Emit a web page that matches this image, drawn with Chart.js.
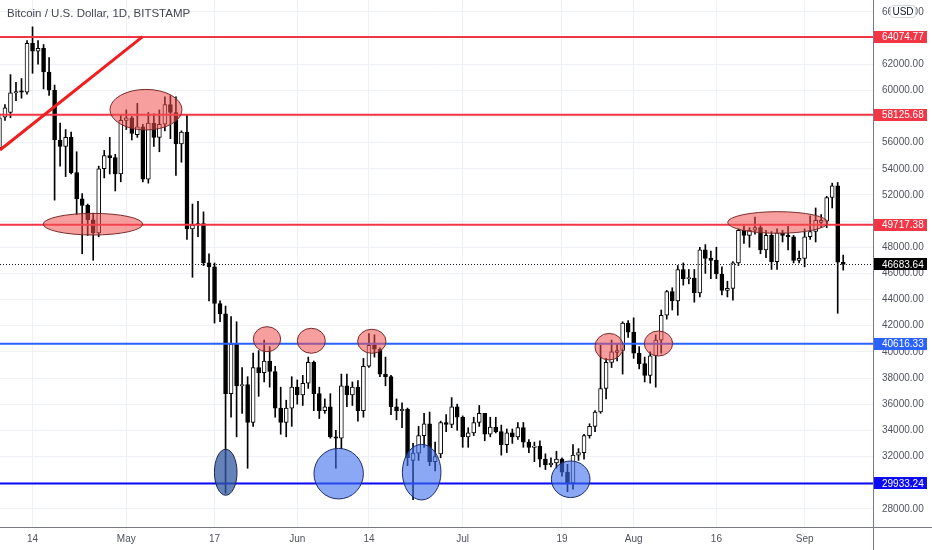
<!DOCTYPE html>
<html>
<head>
<meta charset="utf-8">
<script src="https://cdn.jsdelivr.net/npm/chart.js@4.4.0/dist/chart.umd.min.js"></script>
<style>
  html, body { margin: 0; padding: 0; background: #ffffff; }
  canvas { display: block; }
</style>
</head>
<body>
<canvas id="btcChart" width="932" height="550"></canvas>
<script>
// daily candles, first one is 2021-04-08 (index 0), last one 2021-09-08
const opens = [
  55600, 57950, 58300, 59800, 59950, 59850, 63600, 63000, 63200, 61400,
  60000, 56200, 55700, 56400, 53700, 51700, 51200, 50100, 49100, 54000,
  55000, 54850, 53600, 57700, 57900, 56600, 57200, 53200, 57500, 56400,
  57400, 58900, 58300, 55900, 56800, 49400, 49700, 49800, 46800, 46500,
  43700, 42900, 36800, 40600, 37400, 37500, 34600, 38800, 38400, 39300,
  38500, 35700, 34600, 35700, 37300, 36700, 37600, 39200, 36800, 35500,
  35800, 33500, 33400, 37400, 36700, 37300, 35500, 38900, 40500, 40200,
  38300, 38100, 35800, 35500, 35600, 31700, 32250, 33600, 34500, 31600,
  32200, 34600, 34450, 35800, 35000, 33500, 33800, 34600, 35300, 33700,
  34250, 33900, 32900, 33800, 33500, 34200, 33100, 32700, 32800, 31800,
  31350, 31500, 31800, 30800, 29950, 32100, 32300, 33600, 34300, 35400,
  37200, 39200, 39950, 40100, 42200, 41500, 39900, 39100, 38200, 39700,
  40900, 42800, 44600, 43900, 46300, 45600, 45650, 44500, 47800, 47150,
  47000, 45950, 44700, 44850, 46800, 49300, 48900, 49300, 49500, 47800,
  48900, 46900, 49100, 48900, 48800, 47000, 47150, 48800, 49200, 49900,
  50000, 51800, 52700, 46850
];
const highs = [
  58200, 58900, 61200, 60600, 60900, 63800, 64850, 63800, 63500, 62500,
  60400, 57500, 57000, 56800, 55300, 52100, 51300, 50600, 54200, 55400,
  56400, 55100, 58100, 58500, 58000, 59000, 57400, 58300, 58200, 58500,
  59500, 59600, 59500, 56900, 58100, 51300, 51500, 50700, 47500, 46800,
  43900, 43500, 42700, 42300, 38800, 38100, 39900, 40100, 40900, 40400,
  38900, 37300, 36300, 38100, 37850, 38200, 39600, 39300, 37300, 36400,
  36800, 34000, 38300, 38300, 37700, 37800, 39500, 41400, 41300, 40300,
  39600, 38200, 36400, 36100, 35700, 33000, 34300, 35300, 35400, 33100,
  34700, 35200, 36500, 36000, 35100, 34200, 35000, 35900, 35300, 35000,
  35000, 34400, 34100, 34100, 34600, 34600, 33300, 33100, 33200, 32200,
  31900, 32400, 31900, 31400, 32900, 32600, 33700, 34500, 35500, 40500,
  39500, 40900, 40600, 42300, 42400, 42600, 40400, 39600, 40000, 41300,
  43200, 44700, 44900, 46600, 46800, 46300, 46300, 48000, 48200, 47700,
  48000, 46500, 45400, 46900, 49400, 49700, 49500, 50300, 49700, 49300,
  49200, 49400, 49300, 49600, 48900, 47700, 49400, 50400, 51000, 50500,
  51900, 52900, 52950, 47400
];
const lows = [
  55500, 57700, 57900, 59200, 59400, 59700, 61300, 62000, 60100, 59600,
  51600, 54200, 53400, 53600, 50500, 47500, 48900, 47000, 48800, 53300,
  53600, 52300, 53000, 57000, 56200, 56400, 53000, 52900, 55700, 55300,
  56900, 56300, 53500, 54500, 48600, 45700, 48800, 46600, 43900, 42200,
  42300, 29200, 35000, 33500, 35300, 31100, 34300, 36600, 37700, 37300,
  35000, 33700, 33500, 34300, 36000, 35900, 37200, 35500, 34900, 35300,
  33400, 31100, 32600, 35800, 35900, 34700, 35000, 38800, 39600, 38100,
  37400, 35200, 34800, 34200, 31300, 28700, 31700, 32700, 31300, 30900,
  31900, 33900, 34200, 34000, 32700, 32700, 33600, 34300, 33200, 33500,
  33800, 32100, 32300, 33000, 33300, 32700, 32300, 31600, 31200, 31000,
  31200, 31100, 30500, 29300, 29500, 31700, 31800, 33400, 33900, 35300,
  36400, 38800, 39300, 38300, 41100, 39500, 38700, 37700, 37600, 37300,
  39900, 42500, 43200, 42800, 45100, 45200, 43800, 44200, 46000, 45600,
  45600, 44350, 44200, 43950, 46600, 48300, 48000, 49000, 47500, 47200,
  46300, 46300, 48400, 47800, 46800, 46800, 46500, 48600, 48400, 49500,
  49500, 51000, 42950, 46250
];
const closes = [
  57900, 58650, 59800, 59900, 59850, 63600, 63000, 63200, 61400, 60000,
  56200, 55700, 56400, 53700, 51700, 51200, 50100, 49100, 54000, 55000,
  54850, 53600, 57700, 57900, 56700, 57200, 53200, 57500, 56400, 57400,
  58900, 58300, 55900, 56800, 49400, 49700, 49800, 46800, 46500, 43700,
  42900, 36800, 40600, 37400, 37500, 34600, 38800, 38400, 39300, 38500,
  35700, 34600, 35700, 37300, 36700, 37600, 39200, 36800, 35500, 35800,
  33500, 33400, 37400, 36700, 37300, 35500, 38900, 40500, 40200, 38300,
  38100, 35800, 35500, 35600, 31900, 32250, 33600, 34500, 31600, 32000,
  34600, 34450, 35800, 35000, 33500, 33800, 34600, 35300, 33700, 34250,
  33900, 32900, 33800, 33500, 34200, 33100, 32700, 32800, 31800, 31350,
  31500, 31800, 30800, 29950, 32100, 32300, 33600, 34300, 35400, 37200,
  39200, 40000, 40100, 42200, 41500, 39900, 39100, 38200, 39700, 40900,
  42800, 44600, 43900, 46300, 45600, 45650, 44500, 47800, 47150, 47000,
  45950, 44700, 44850, 46800, 49300, 48900, 49300, 49500, 47800, 48900,
  46900, 49100, 48900, 48800, 47000, 47150, 48800, 49200, 50050, 50050,
  51800, 52700, 46850, 46683.64
];
const lastPrice = 46683.64;

// time axis: day index of each label
const tickDays = [6, 23, 39, 54, 67, 84, 102, 115, 130, 146];
const tickLabels = ['14', 'May', '17', 'Jun', '14', 'Jul', '19', 'Aug', '16', 'Sep'];

// price axis ticks
const priceTicks = [28000, 30000, 32000, 34000, 36000, 38000, 40000, 42000, 44000, 46000,
  48000, 50000, 52000, 54000, 56000, 58000, 60000, 62000, 64000, 66000];

// horizontal levels drawn on the chart
const levelValues = [64074.77, 58125.68, 49717.38, 40616.33, 29933.24];
const levelColors = ['#f23645', '#f23645', '#f23645', '#2962ff', '#0b0bf5'];

// trend line: [day, price] to [day, price]
const trendLine = [[0.1, 55435], [25.97, 64098]];

// marked zones: [day, price, half width in days, half height in price, kind]
const zones = [
  [26.57, 58516, 6.53, 1552, 'red'],
  [16.96, 49762, 9.01, 826, 'red'],
  [48.51, 40969, 2.48, 956, 'red'],
  [56.55, 40846, 2.54, 956, 'red'],
  [67.52, 40808, 2.57, 918, 'red'],
  [41.03, 30792, 2.05, 1759, 'navy'],
  [61.51, 30685, 4.48, 1934, 'blue'],
  [76.56, 30800, 3.5, 2126, 'blue'],
  [103.58, 30257, 3.5, 1399, 'blue'],
  [110.56, 40395, 2.57, 1017, 'red'],
  [119.5, 40640, 2.57, 956, 'red'],
  [141.12, 49892, 9.07, 826, 'red']
];

const zoneFill = { red: 'rgba(240, 80, 80, 0.55)', blue: 'rgba(60, 110, 235, 0.6)', navy: 'rgba(50, 90, 160, 0.75)' };
const zoneEdge = { red: '#7a2a2a', blue: '#1c2b6b', navy: '#1a2550' };

const textColor = '#50535e';
const gridColor = '#eef1f6';
const axisFont = { family: 'Liberation Sans', size: 10 };

// a tick label that sits under a level tag is not shown
const hiddenByTag = (v) => levelValues.some((l) => Math.abs(l - v) < 450);

const overlay = {
  id: 'overlay',
  afterDatasetsDraw(chart) {
    const { ctx, chartArea: a, scales: { x, y } } = chart;
    ctx.save();
    ctx.beginPath();
    ctx.rect(a.left, a.top, a.right - a.left, a.bottom - a.top);
    ctx.clip();

    // last price dotted line
    const py = Math.round(y.getPixelForValue(lastPrice)) + 0.5;
    ctx.setLineDash([1, 2]);
    ctx.strokeStyle = '#131722';
    ctx.lineWidth = 1;
    ctx.beginPath();
    ctx.moveTo(a.left, py);
    ctx.lineTo(a.right, py);
    ctx.stroke();
    ctx.setLineDash([]);

    levelValues.forEach((v, i) => {
      const ly = y.getPixelForValue(v);
      ctx.strokeStyle = levelColors[i];
      ctx.lineWidth = 2;
      ctx.beginPath();
      ctx.moveTo(a.left, ly);
      ctx.lineTo(a.right, ly);
      ctx.stroke();
    });

    ctx.strokeStyle = '#f01e1e';
    ctx.lineWidth = 3;
    ctx.beginPath();
    ctx.moveTo(x.getPixelForValue(trendLine[0][0]), y.getPixelForValue(trendLine[0][1]));
    ctx.lineTo(x.getPixelForValue(trendLine[1][0]), y.getPixelForValue(trendLine[1][1]));
    ctx.stroke();

    zones.forEach(([d, p, hd, hp, kind]) => {
      const cx = x.getPixelForValue(d);
      const cy = y.getPixelForValue(p);
      const rx = x.getPixelForValue(d + hd) - cx;
      const ry = cy - y.getPixelForValue(p + hp);
      ctx.beginPath();
      ctx.ellipse(cx, cy, rx, ry, 0, 0, Math.PI * 2);
      ctx.fillStyle = zoneFill[kind];
      ctx.fill();
      ctx.strokeStyle = zoneEdge[kind];
      ctx.lineWidth = 1;
      ctx.stroke();
    });
    ctx.restore();
  },
  afterDraw(chart) {
    const { ctx, chartArea: a, scales: { y }, width, height } = chart;
    ctx.save();
    // axis borders
    ctx.strokeStyle = '#787b86';
    ctx.lineWidth = 1;
    ctx.beginPath();
    ctx.moveTo(0, Math.round(a.bottom) + 0.5);
    ctx.lineTo(width, Math.round(a.bottom) + 0.5);
    ctx.moveTo(Math.round(a.right) + 0.5, 0);
    ctx.lineTo(Math.round(a.right) + 0.5, height);
    ctx.stroke();

    // price labels on the scale
    ctx.font = '10px "Liberation Sans"';
    ctx.textBaseline = 'middle';
    const tag = (v, color) => {
      const ty = y.getPixelForValue(v);
      ctx.fillStyle = color;
      ctx.fillRect(a.right + 1, Math.round(ty) - 6, 53, 12);
      ctx.fillStyle = '#ffffff';
      ctx.fillText(v.toFixed(2), a.right + 9, ty + 0.5);
    };
    levelValues.forEach((v, i) => tag(v, levelColors[i]));
    tag(lastPrice, '#000000');

    // currency box
    ctx.fillStyle = '#ffffff';
    ctx.strokeStyle = '#d1d4dc';
    ctx.beginPath();
    ctx.roundRect(890.5, 5.5, 25, 12, 3);
    ctx.fill();
    ctx.stroke();
    ctx.fillStyle = '#131722';
    ctx.textAlign = 'center';
    ctx.fillText('USD', 903, 12);

    // title
    ctx.textAlign = 'left';
    ctx.textBaseline = 'alphabetic';
    ctx.font = '11.5px "Liberation Sans"';
    ctx.fillStyle = '#434651';
    ctx.fillText('Bitcoin / U.S. Dollar, 1D, BITSTAMP', 7, 17);
    ctx.restore();
  }
};

const bodies = closes.map((c, i) => ({ x: i, y: [Math.min(opens[i], c), Math.max(opens[i], c)] }));
const wicks = highs.map((h, i) => ({ x: i, y: [lows[i], h] }));

new Chart(document.getElementById('btcChart'), {
  type: 'bar',
  data: {
    datasets: [
      {
        label: 'body',
        data: bodies,
        backgroundColor: (c) => closes[c.dataIndex] >= opens[c.dataIndex] ? '#ffffff' : '#000000',
        borderColor: '#000000',
        borderWidth: 1,
        borderSkipped: false,
        barThickness: 4,
        minBarLength: 1,
        grouped: false,
        order: 1
      },
      {
        label: 'wick',
        data: wicks,
        backgroundColor: '#000000',
        barThickness: 1,
        grouped: false,
        order: 2
      }
    ]
  },
  options: {
    responsive: false,
    animation: false,
    layout: { padding: 0 },
    plugins: { legend: { display: false }, tooltip: { enabled: false } },
    scales: {
      x: {
        type: 'linear',
        min: 0.1,
        max: 158.4,
        offset: false,
        afterBuildTicks: (s) => { s.ticks = tickDays.map((v) => ({ value: v })); },
        afterFit: (s) => { s.height = 23; s.paddingLeft = 0; s.paddingRight = 0; },
        grid: { color: gridColor, drawTicks: false, offset: false },
        border: { display: false },
        ticks: {
          autoSkip: false,
          maxRotation: 0,
          padding: 6,
          color: textColor,
          font: axisFont,
          callback: (v) => tickLabels[tickDays.indexOf(v)]
        }
      },
      y: {
        position: 'right',
        min: 26607,
        max: 66904,
        afterBuildTicks: (s) => { s.ticks = priceTicks.map((v) => ({ value: v })); },
        afterFit: (s) => { s.width = 59; s.paddingTop = 0; s.paddingBottom = 0; },
        grid: { color: gridColor, drawTicks: false },
        border: { display: false },
        ticks: {
          autoSkip: false,
          padding: 9,
          color: textColor,
          font: axisFont,
          callback: (v) => hiddenByTag(v) ? '' : v.toFixed(2)
        }
      }
    }
  },
  plugins: [overlay]
});
</script>
</body>
</html>
